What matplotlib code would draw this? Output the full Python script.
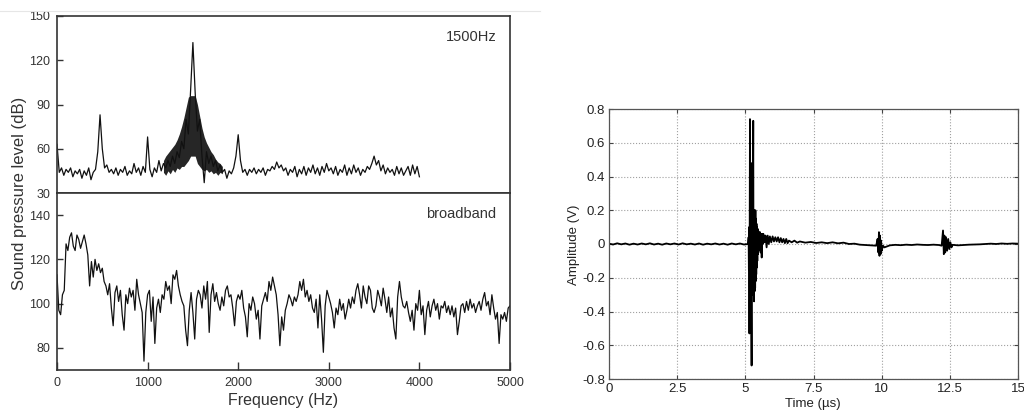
import numpy as np
import matplotlib
matplotlib.use("Agg")
import matplotlib.pyplot as plt
from matplotlib.lines import Line2D

plt.rcParams['font.family'] = ['Liberation Sans', 'DejaVu Sans']

# ---------------- data ----------------
# 1500 Hz tone spectrum (25 Hz steps, 0..4000 Hz)
tone_freq = np.arange(0, 4001, 25)
tone_spl = [63, 44, 47, 42, 46, 44, 47, 41, 45, 43, 46, 40, 45, 42, 47, 39, 44, 46, 58, 83,
            60, 47, 49, 44, 46, 43, 47, 42, 46, 44, 48, 42, 45, 43, 50, 44, 47, 42, 48, 44,
            68, 46, 41, 47, 44, 52, 45, 50, 47, 52, 48, 55, 50, 58, 54, 65, 60, 80, 70, 100,
            132, 98, 72, 80, 55, 37, 58, 50, 55, 48, 52, 45, 49, 44, 46, 40, 45, 43, 47, 55,
            69.5, 52, 44, 46, 42, 46, 44, 47, 43, 46, 44, 47, 42, 46, 45, 48, 46, 51, 47, 49,
            45, 47, 42, 46, 44, 48, 41, 46, 43, 48, 42, 47, 44, 49, 43, 47, 42, 48, 44, 50,
            45, 47, 43, 48, 42, 46, 44, 49, 42, 47, 43, 49, 44, 47, 42, 46, 44, 48, 46, 50,
            55, 49, 52, 45, 49, 43, 47, 44, 46, 42, 48, 43, 47, 42, 45, 48, 42, 49, 43, 48,
            41]
# envelope of the dense ripple around the 1500 Hz peak
band_freq = np.arange(1175, 1826, 25)
band_upper = [52, 55, 57, 59, 61, 63, 66, 70, 75, 81, 88, 95, 96, 96, 96, 90, 82, 74, 68, 64,
              61, 58, 56, 53, 51, 50, 48]
band_lower = [44, 42, 45, 43, 46, 44, 47, 46, 48, 48, 50, 52, 55, 55, 55, 50, 48, 46, 45, 46,
              44, 45, 43, 44, 42, 44, 43]

# broadband spectrum (20 Hz steps, 0..5000 Hz)
broad_freq = np.arange(0, 5001, 20)
broad_spl = [113, 97, 95, 104, 106, 127, 124, 130, 132, 126, 124, 131, 129, 125, 128, 131, 127, 122, 108, 119,
             112, 120, 115, 118, 114, 116, 110, 108, 104, 109, 98, 90, 105, 108, 101, 106, 95, 88, 104, 100,
             107, 103, 106, 97, 111, 104, 100, 96, 74, 96, 104, 106, 92, 103, 82, 98, 102, 96, 104, 102,
             110, 106, 108, 100, 113, 111, 115, 108, 104, 101, 99, 88, 81, 97, 105, 96, 84, 102, 106, 104,
             98, 108, 102, 110, 87, 104, 109, 101, 105, 100, 97, 103, 99, 106, 108, 103, 104, 98, 90, 101,
             104, 102, 106, 98, 94, 85, 100, 97, 103, 100, 93, 97, 84, 99, 102, 105, 101, 110, 106, 112,
             108, 104, 95, 81, 94, 88, 97, 100, 104, 102, 99, 103, 101, 104, 110, 106, 111, 103, 106, 101,
             104, 98, 96, 102, 89, 104, 93, 78, 99, 106, 103, 100, 96, 89, 98, 95, 102, 97, 100, 93,
             97, 102, 98, 103, 100, 106, 109, 104, 98, 108, 103, 100, 108, 106, 98, 96, 99, 106, 103, 99,
             107, 102, 96, 103, 94, 98, 89, 84, 103, 110, 103, 99, 98, 101, 96, 92, 97, 88, 100, 97,
             106, 95, 99, 86, 97, 101, 94, 99, 102, 97, 100, 93, 99, 98, 101, 96, 99, 95, 99, 94,
             98, 86, 92, 99, 100, 96, 101, 97, 102, 98, 100, 96, 99, 101, 97, 102, 105, 99, 101, 95,
             104, 98, 93, 96, 82, 95, 93, 96, 92, 98, 99]

# time signal
time_us = [0.0, 0.15, 0.3, 0.45, 0.6, 0.75, 0.9, 1.05, 1.2, 1.35, 1.5, 1.65, 1.8, 1.95, 2.1, 2.25,
           2.4, 2.55, 2.7, 2.85, 3.0, 3.15, 3.3, 3.45, 3.6, 3.75, 3.9, 4.05, 4.2, 4.35, 4.5, 4.65,
           4.8, 4.95, 5.10,
           5.12, 5.13, 5.14, 5.15, 5.16, 5.17, 5.18, 5.19, 5.20, 5.21, 5.22, 5.23, 5.24, 5.25, 5.26,
           5.27, 5.28, 5.29, 5.30, 5.31, 5.32, 5.33, 5.34, 5.35, 5.36, 5.37, 5.38, 5.39, 5.40, 5.41,
           5.42, 5.43, 5.44, 5.45, 5.46, 5.47, 5.48, 5.50, 5.52, 5.54, 5.56, 5.58, 5.60, 5.62, 5.64,
           5.66, 5.70, 5.74, 5.78, 5.82, 5.86, 5.90, 5.95, 6.00, 6.05, 6.10, 6.15, 6.20, 6.25, 6.30,
           6.35, 6.40, 6.45, 6.50, 6.55, 6.60, 6.70, 6.80, 6.90, 7.00, 7.2, 7.4, 7.6, 7.8, 8.0,
           8.2, 8.4, 8.6, 8.8, 9.0, 9.2, 9.4, 9.6, 9.8, 9.85, 9.88, 9.90, 9.92, 9.94, 9.96, 9.98,
           10.00, 10.05, 10.1, 10.3, 10.5, 10.7, 10.9, 11.1, 11.3, 11.5, 11.7, 11.9, 12.1, 12.2,
           12.25, 12.28, 12.30, 12.33, 12.36, 12.40, 12.44, 12.48, 12.52, 12.56, 12.6, 12.8, 13.0,
           13.2, 13.4, 13.6, 13.8, 14.0, 14.2, 14.4, 14.6, 14.8, 15.0]
amp_v = [0.002, -0.003, 0.004, -0.002, 0.003, -0.004, 0.002, -0.003, 0.003, -0.002, 0.004, -0.003,
         0.002, -0.004, 0.003, -0.002, 0.003, -0.003, 0.004, -0.002, 0.002, -0.003, 0.003, -0.004,
         0.002, -0.002, 0.003, -0.003, 0.002, -0.004, 0.003, -0.002, 0.003, -0.003, 0.00,
         0.04, -0.15, 0.10, -0.53, 0.20, 0.74, -0.30, 0.10, -0.25, 0.48, -0.40, -0.72, 0.15, -0.30, 0.20,
         -0.10, 0.35, 0.73, -0.20, 0.19, -0.34, 0.20, -0.28, 0.18, -0.26, 0.20, -0.22, 0.15, -0.18, 0.12,
         -0.14, 0.10, -0.10, 0.09, -0.06, 0.08, -0.04, 0.07, -0.02, 0.07, -0.05, 0.06, -0.08, 0.06, 0.00,
         0.06, 0.01, 0.05, -0.02, 0.05, 0.00, 0.045, 0.01, 0.045, 0.015, 0.04, 0.015, 0.04, 0.01, 0.035,
         0.01, 0.03, 0.005, 0.03, 0.005, 0.02, 0.01, 0.02, 0.008, 0.015, 0.008, 0.012, 0.006, 0.01, 0.005,
         0.01, 0.004, 0.008, 0.0, 0.002, -0.004, -0.006, -0.008, -0.01, 0.03, -0.05, 0.07, -0.07, 0.05, -0.06, 0.02,
         -0.04, -0.01, -0.02, -0.008, -0.005, -0.007, -0.004, -0.006, -0.003, -0.005, -0.006, -0.004, -0.006, -0.01,
         0.08, -0.06, 0.05, -0.05, 0.04, -0.04, 0.03, -0.03, 0.01, -0.02, -0.005, -0.008, -0.006,
         -0.004, -0.003, -0.002, 0.0, 0.002, 0.0, 0.003, 0.001, 0.003, 0.002]

freq_ticks = [0, 1000, 2000, 3000, 4000, 5000]
tone_yticks = [30, 60, 90, 120, 150]
broad_yticks = [80, 100, 120, 140]
time_ticks = [0, 2.5, 5, 7.5, 10, 12.5, 15]
time_labels = ['0', '2.5', '5', '7.5', '10', '12.5', '15']
amp_ticks = [-0.8, -0.6, -0.4, -0.2, 0, 0.2, 0.4, 0.6, 0.8]
amp_labels = ['-0.8', '-0.6', '-0.4', '-0.2', '0', '0.2', '0.4', '0.6', '0.8']

# ---------------- figure ----------------
W, H = 1024, 413
fig = plt.figure(figsize=(W / 100, H / 100), dpi=100)
fig.patch.set_facecolor('white')

def fx(px):
    return px / W

def fy(py):
    return 1 - py / H

txtc = '#333333'
spc = '#333333'

ax_top = fig.add_axes([fx(57), fy(193), fx(510) - fx(57), fy(16) - fy(193)])
ax_bot = fig.add_axes([fx(57), fy(370), fx(510) - fx(57), fy(193) - fy(370)])

# faint line at top of image
fig.add_artist(Line2D([0, fx(540)], [fy(11), fy(11)], color='#e6e6e6', lw=0.8))

ax_top.fill_between(band_freq, band_lower, band_upper, color='#262626', lw=0)
ax_top.plot(tone_freq, tone_spl, color='#111111', lw=0.9)
ax_top.set_xlim(0, 5000)
ax_top.set_ylim(30, 150)
ax_top.set_yticks(tone_yticks)
ax_top.set_xticks([])
ax_top.text(0.97, 0.88, '1500Hz', transform=ax_top.transAxes, ha='right', va='center',
            fontsize=10.5, color=txtc)

ax_bot.plot(broad_freq, broad_spl, color='#111111', lw=0.9)
ax_bot.set_xlim(0, 5000)
ax_bot.set_ylim(70, 150)
ax_bot.set_yticks(broad_yticks)
ax_bot.set_xticks(freq_ticks)
ax_bot.text(0.97, 0.88, 'broadband', transform=ax_bot.transAxes, ha='right', va='center',
            fontsize=10.5, color=txtc)

for ax in (ax_top, ax_bot):
    for s in ax.spines.values():
        s.set_color(spc)
        s.set_linewidth(1.2)
    ax.tick_params(direction='in', length=4, width=1, colors=spc, labelcolor=txtc,
                   labelsize=9, pad=5)
ax_bot.tick_params(axis='x', length=6, pad=5)

fig.text(fx(20), fy(193), 'Sound pressure level (dB)', rotation=90, ha='center', va='center',
         fontsize=12, color=txtc)
fig.text(fx(283), fy(401), 'Frequency (Hz)', ha='center', va='center', fontsize=11.5, color=txtc)

# right panel
ax_r = fig.add_axes([fx(609), fy(379), fx(1018) - fx(609), fy(109) - fy(379)])
ax_r.plot(time_us, amp_v, color='black', lw=1.3)
ax_r.set_xlim(0, 15)
ax_r.set_ylim(-0.8, 0.8)
ax_r.set_xticks(time_ticks)
ax_r.set_xticklabels(time_labels)
ax_r.set_yticks(amp_ticks)
ax_r.set_yticklabels(amp_labels)
ax_r.grid(True, linestyle=':', color='#a0a0a0', lw=0.8)
ax_r.tick_params(direction='in', length=3, colors='#444444', labelcolor='#222222',
                 labelsize=9.5, top=True, right=True, pad=3)
for s in ax_r.spines.values():
    s.set_color('#555555')
    s.set_linewidth(0.9)
fig.text(fx(574), fy(245), 'Amplitude (V)', rotation=90, ha='center', va='center',
         fontsize=9.5, color='#222222')
fig.text(fx(813), fy(404), 'Time (\u00b5s)', ha='center', va='center', fontsize=9.5, color='#222222')

fig.savefig('out.png', dpi=100, facecolor='white')
